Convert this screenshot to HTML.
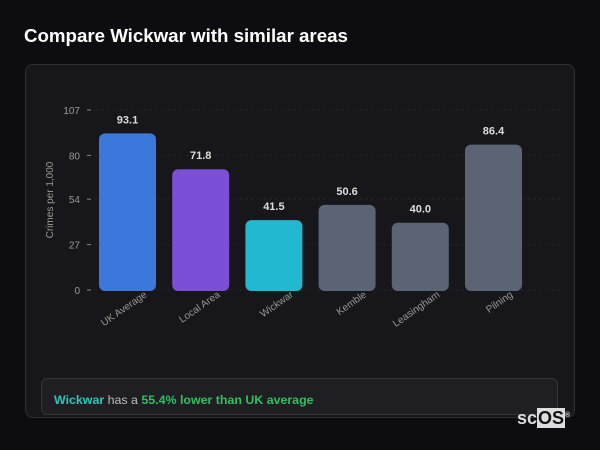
<!DOCTYPE html>
<html><head><meta charset="utf-8"><style>
body{margin:0;width:600px;height:450px;background:#0d0d11;font-family:"Liberation Sans","DejaVu Sans",sans-serif;overflow:hidden;position:relative}
.title{position:absolute;left:24px;top:25px;color:#fff;font-size:18.7px;font-weight:bold}
.card{position:absolute;left:25px;top:64px;width:550px;height:354px;background:#17171b;border:1px solid #2e2e33;border-radius:8px;box-sizing:border-box}
.insight{position:absolute;left:41px;top:378px;width:517px;height:37px;background:#1f1f23;border:1px solid #34343a;border-radius:6px;box-sizing:border-box;font-size:12.4px;line-height:42px;padding-left:12px;color:#bbb}
.logo{position:absolute;left:517px;top:408px;font-size:18px;font-weight:bold;color:#ddd}
.logo span{background:#ddd;color:#111;padding:0 1px}
</style></head><body>
<div class="title">Compare Wickwar with similar areas</div>
<div class="card"></div>
<svg id="chart" width="600" height="450" style="position:absolute;left:0;top:0"></svg>
<div class="insight"><b style="color:#2ec4b6">Wickwar</b> has a <b style="color:#2fbf5f">55.4% lower than UK average</b></div>
<div class="logo">sc<span>OS</span><sup style="font-size:7px">®</sup></div>
<script>
const categories=["UK Average","Local Area","Wickwar","Kemble","Leasingham","Pilning"];
const values=[93.1,71.8,41.5,50.6,40.0,86.4];
const valueLabels=["93.1","71.8","41.5","50.6","40.0","86.4"];
const ticks=[0,27,54,80,107];
const colors=["#3a78dc","#7b4fd6","#22b8cf","#5a6475","#5a6475","#5a6475"];
const NS="http://www.w3.org/2000/svg";
const svg=document.getElementById('chart');
const y0=290,y1=110,yMax=107;
function y(v){return y0-(v/yMax)*(y0-y1);}
function x(i){return 99+i*73.2;}
const bw=57;
function mk(t,a){const e=document.createElementNS(NS,t);for(const k in a)e.setAttribute(k,a[k]);svg.appendChild(e);return e;}
ticks.forEach(t=>{
 const g=mk('line',{x1:95,x2:560,y1:y(t),y2:y(t),stroke:'#232328','stroke-dasharray':'3,3'});
 
 
 mk('line',{x1:87,x2:91,y1:y(t),y2:y(t),stroke:'#888'});
 const l=mk('text',{x:80,y:y(t)+4,'text-anchor':'end',fill:'#999','font-size':10});
 l.textContent=t;
 
 
});
const yt=mk('text',{x:0,y:0,transform:'translate(53,200) rotate(-90)','text-anchor':'middle',fill:'#999','font-size':10});
yt.textContent='Crimes per 1,000';


categories.forEach((c,i)=>{
 const top=y(values[i]);
 const r=mk('rect',{x:x(i),y:top,width:bw,height:y0-top+1,rx:6,fill:colors[i]});
 
 
 const v=mk('text',{x:x(i)+bw/2,y:top-10,'text-anchor':'middle',fill:'#ddd','font-size':11,'font-weight':'bold'});
 v.textContent=valueLabels[i];
 
 
 const cx=x(i)+bw/2+20;
 const l=mk('text',{x:cx,y:296,transform:`rotate(-35 ${cx} 296)`,'text-anchor':'end',fill:'#999','font-size':10});
 l.textContent=c;
 
 
});
</script>
</body></html>
